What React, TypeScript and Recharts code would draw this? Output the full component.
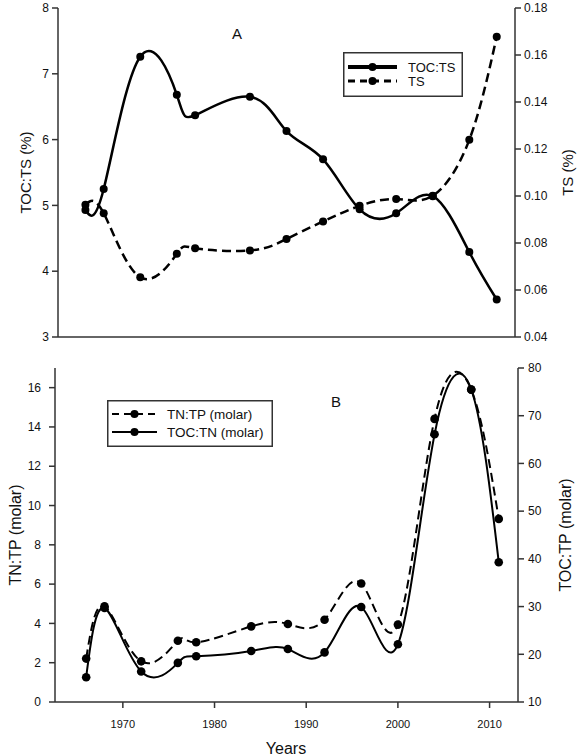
import React from 'react';
import { LineChart, Line, XAxis, YAxis, Legend } from 'recharts';

// sample years (shared by both panels)
const years = [1966, 1968, 1972, 1976, 1978, 1984, 1988, 1992, 1996, 2000, 2004, 2008, 2011];

// panel A
const tocTs = [4.93, 5.25, 7.26, 6.68, 6.37, 6.65, 6.13, 5.7, 4.94, 4.88, 5.14, 4.29, 3.57];
const ts = [0.0963, 0.0927, 0.0654, 0.0754, 0.0778, 0.0768, 0.0817, 0.0892, 0.0958, 0.0987, 0.1001, 0.1239, 0.1678];

// panel B
const tnTp = [2.21, 4.87, 2.07, 3.12, 3.04, 3.85, 3.97, 4.19, 6.03, 3.94, 14.41, 15.9, 9.32];
const tocTn = [15.2, 29.7, 16.4, 18.2, 19.6, 20.7, 21.1, 20.4, 29.9, 22.1, 66.1, 75.5, 39.3];

const yearTicks = [1970, 1980, 1990, 2000, 2010];
const tocTsTicks = [3, 4, 5, 6, 7, 8];
const tsTicks = [0.04, 0.06, 0.08, 0.1, 0.12, 0.14, 0.16, 0.18];
const tnTpTicks = [0, 2, 4, 6, 8, 10, 12, 14, 16];
const tocTpTicks = [10, 20, 30, 40, 50, 60, 70, 80];

const FONT = '"Liberation Sans", Arial, sans-serif';
const INK = '#111';
const AXIS = { stroke: '#333', strokeWidth: 1.5 };

const dataA = years.map((year, i) => ({ year, tocTs: tocTs[i], ts: ts[i] }));
const dataB = years.map((year, i) => ({ year, tnTp: tnTp[i], tocTn: tocTn[i] }));

const sideTitle = (text: string, x: number, size: number) => (props: any) => {
  const vb = props.viewBox || {};
  const cy = (vb.y ?? 0) + (vb.height ?? 0) / 2;
  return (
    <text x={x} y={cy} transform={`rotate(-90 ${x} ${cy})`} textAnchor="middle"
      dominantBaseline="central" fontSize={size} fontFamily={FONT} fill={INK}>
      {text}
    </text>
  );
};

type LegendRow = { label: string; dash?: string; width: number };

const LegendBox = ({ rows, w, h, rowY, sample, textX, fontSize }: {
  rows: LegendRow[]; w: number; h: number; rowY: number[]; sample: [number, number]; textX: number; fontSize: number;
}) => (
  <svg width={w} height={h} style={{ display: 'block' }}>
    <rect x={0.75} y={0.75} width={w - 1.5} height={h - 1.5} fill="#fff" stroke="#333" strokeWidth={1.5} />
    {rows.map((r, i) => (
      <g key={r.label}>
        <line x1={sample[0]} x2={sample[1]} y1={rowY[i]} y2={rowY[i]} stroke="#000" strokeWidth={r.width} strokeDasharray={r.dash} />
        <circle cx={(sample[0] + sample[1]) / 2} cy={rowY[i]} r={4} fill="#000" />
        <text x={textX} y={rowY[i]} dominantBaseline="central" fontSize={fontSize} fontFamily={FONT} fill={INK}>{r.label}</text>
      </g>
    ))}
  </svg>
);

const tickStyle = { fontSize: 12, fontFamily: FONT, fill: INK };
const xTickStyle = { fontSize: 11, fontFamily: FONT, fill: INK };
const dotStyle = { r: 4, fill: '#000', stroke: '#000', strokeWidth: 0 };

const PanelA = () => (
  <LineChart width={581} height={350} data={dataA} margin={{ top: 8, right: 0, bottom: 0, left: 0 }}>
    <XAxis xAxisId="top" orientation="top" type="number" domain={[1963, 2013]} height={0}
      tick={false} tickLine={false} axisLine={AXIS} />
    <XAxis dataKey="year" type="number" domain={[1963, 2013]} ticks={yearTicks} height={13}
      tick={false} tickSize={6} tickLine={AXIS} axisLine={AXIS} />
    <YAxis yAxisId="left" width={58} domain={[3, 8]} ticks={tocTsTicks} tick={tickStyle}
      tickSize={6} tickMargin={3} tickLine={AXIS} axisLine={AXIS} label={sideTitle('TOC:TS (%)', 25, 15)} />
    <YAxis yAxisId="right" orientation="right" width={66} domain={[0.04, 0.18]} ticks={tsTicks}
      tickFormatter={(v: number) => v.toFixed(2)} tick={tickStyle} tickSize={6} tickMargin={3}
      tickLine={AXIS} axisLine={AXIS} label={sideTitle('TS (%)', 567, 15)} />
    <Legend verticalAlign="middle" align="center" layout="horizontal"
      wrapperStyle={{ left: 343, top: 52, width: 120, height: 45 }}
      content={() => (
        <LegendBox w={120} h={45} rowY={[15, 29]} sample={[5, 54]} textX={65} fontSize={13}
          rows={[{ label: 'TOC:TS', width: 4 }, { label: 'TS', width: 3, dash: '7 5' }]} />
      )} />
    <Line yAxisId="left" type="natural" dataKey="tocTs" stroke="#000" strokeWidth={2.5}
      dot={dotStyle} activeDot={false} isAnimationActive={false} />
    <Line yAxisId="right" type="natural" dataKey="ts" stroke="#000" strokeWidth={2.5} strokeDasharray="9 5"
      dot={dotStyle} activeDot={false} isAnimationActive={false} />
  </LineChart>
);

const PanelB = () => (
  <LineChart width={581} height={395} data={dataB} margin={{ top: 8, right: 0, bottom: 0, left: 0 }}>
    <XAxis xAxisId="top" orientation="top" type="number" domain={[1962.6, 2013.1]} height={0}
      tick={false} tickLine={false} axisLine={AXIS} />
    <XAxis dataKey="year" type="number" domain={[1962.6, 2013.1]} ticks={yearTicks} height={53}
      tick={xTickStyle} tickSize={6} tickMargin={12} tickLine={AXIS} axisLine={AXIS}
      label={() => (
        <text x={286} y={388} textAnchor="middle" dominantBaseline="central" fontSize={16}
          fontFamily={FONT} fill={INK}>Years</text>
      )} />
    <YAxis yAxisId="left" width={55} domain={[0, 17]} ticks={tnTpTicks} tick={tickStyle}
      tickSize={6} tickMargin={8} tickLine={AXIS} axisLine={AXIS} label={sideTitle('TN:TP (molar)', 15, 16)} />
    <YAxis yAxisId="right" orientation="right" width={63} domain={[10, 80]} ticks={tocTpTicks}
      tick={tickStyle} tickSize={6} tickMargin={4} tickLine={AXIS} axisLine={AXIS}
      label={sideTitle('TOC:TP (molar)', 565, 16)} />
    <Legend verticalAlign="middle" align="center" layout="horizontal"
      wrapperStyle={{ left: 107, top: 40, width: 166, height: 47 }}
      content={() => (
        <LegendBox w={166} h={47} rowY={[14, 32]} sample={[5, 50]} textX={60} fontSize={13.5}
          rows={[{ label: 'TN:TP (molar)', width: 2, dash: '7 5' }, { label: 'TOC:TN (molar)', width: 2 }]} />
      )} />
    <Line yAxisId="left" type="natural" dataKey="tnTp" stroke="#000" strokeWidth={2} strokeDasharray="9 5"
      dot={{ ...dotStyle, r: 4.3 }} activeDot={false} isAnimationActive={false} />
    <Line yAxisId="right" type="natural" dataKey="tocTn" stroke="#000" strokeWidth={2}
      dot={{ ...dotStyle, r: 4.3 }} activeDot={false} isAnimationActive={false} />
  </LineChart>
);

const tag = (left: number, top: number): React.CSSProperties => ({
  position: 'absolute', left, top, transform: 'translate(-50%, -50%)', fontSize: 15, fontFamily: FONT, color: INK,
});

export default function App() {
  return (
    <div style={{ position: 'absolute', left: 0, top: 0, width: 581, height: 755, background: '#fff', overflow: 'hidden' }}>
      <div style={{ position: 'absolute', left: 0, top: 0 }}>
        <PanelA />
      </div>
      <div style={{ position: 'absolute', left: 0, top: 360 }}>
        <PanelB />
      </div>
      <div style={tag(237, 33)}>A</div>
      <div style={tag(336, 401)}>B</div>
    </div>
  );
}
